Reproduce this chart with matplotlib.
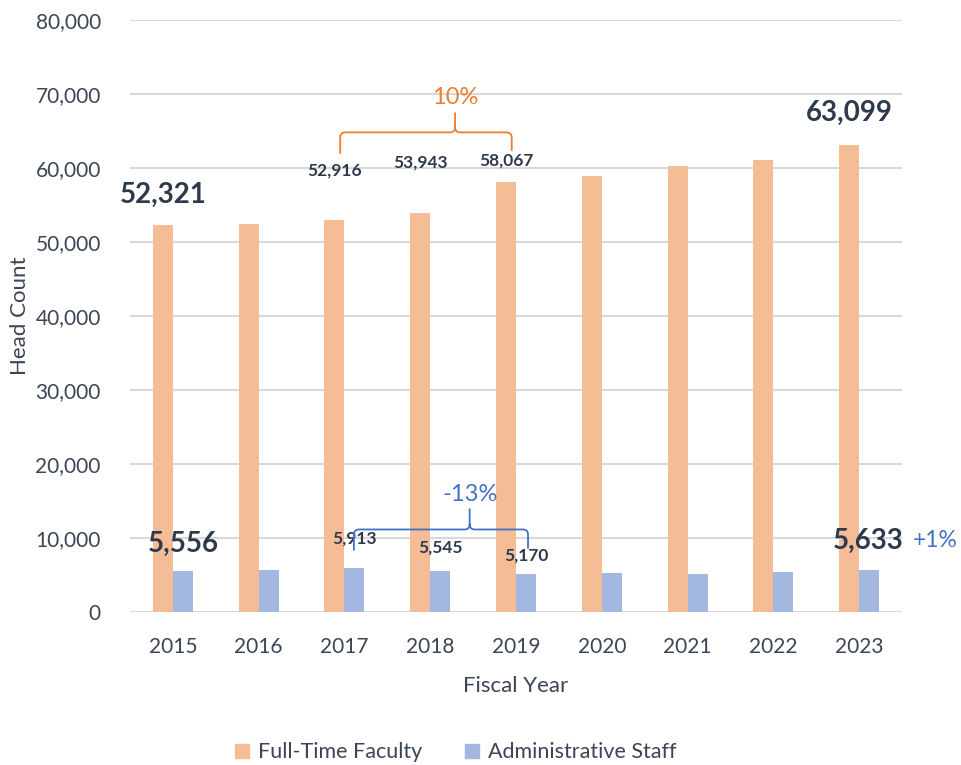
import matplotlib
matplotlib.use('Agg')
import matplotlib.pyplot as plt
from matplotlib.path import Path
from matplotlib.patches import PathPatch, Patch
import numpy as np

##### Data

years = ['2015', '2016', '2017', '2018', '2019', '2020', '2021', '2022', '2023']
faculty = [52321, 52400, 52916, 53943, 58067, 58900, 60300, 61100, 63099]
admin = [5556, 5690, 5913, 5545, 5170, 5210, 5200, 5400, 5633]

# which bars get a value label: (index, size)
faculty_labels = {0: 'big', 2: 'small', 3: 'small', 4: 'small', 8: 'big'}
admin_labels = {0: 'big', 2: 'small', 3: 'small', 4: 'small', 8: 'big'}

faculty_change = '10%'
admin_change = '-13%'
admin_change_total = '+1%'

##### Style

plt.rcParams['font.family'] = ['Lato', 'DejaVu Sans']
txt = '#3b4556'
lab = '#2e3a4b'
c_fac = '#f4bd96'
c_adm = '#a2b8e1'
c_orange = '#ed7d31'
c_blue = '#4472c4'

fig = plt.figure(figsize=(9.61, 7.65), dpi=100)
ax = fig.add_axes([0.1353, 0.2, 0.8033, 0.774])

x = np.arange(len(years))
w = 0.233
ax.bar(x - w / 2, faculty, w, color=c_fac, label='Full-Time Faculty', zorder=2)
ax.bar(x + w / 2, admin, w, color=c_adm, label='Administrative Staff', zorder=2)

ax.set_xlim(-0.5, len(years) - 0.5)
ax.set_ylim(0, 80000)
ax.set_yticks(range(0, 80001, 10000))
ax.set_yticklabels(['{:,}'.format(v) for v in range(0, 80001, 10000)])
ax.set_xticks(x)
ax.set_xticklabels(years)
ax.yaxis.grid(True, color='#d9d9d9', linewidth=1.5, zorder=0)
ax.set_axisbelow(True)
for s in ax.spines.values():
    s.set_visible(False)
ax.tick_params(length=0, labelsize=15, colors=txt)
ax.tick_params(axis='x', pad=18)
ax.tick_params(axis='y', pad=21)
ax.set_xlabel('Fiscal Year', fontsize=16, color=txt, labelpad=14)
ax.set_ylabel('Head Count', fontsize=16, color=txt)
ax.yaxis.set_label_coords(-0.13, 0.5)

##### Value labels

off_fac = {0: 30, 2: 50, 3: 50, 4: 22, 8: 32}
for i, size in faculty_labels.items():
    fs = 20 if size == 'big' else 12.5
    ax.annotate('{:,}'.format(faculty[i]), (x[i] - w / 2, faculty[i]),
                xytext=(0, off_fac[i]), textcoords='offset pixels',
                ha='center', va='center', fontsize=fs, fontweight='bold', color=lab)

off_adm = {0: 27, 2: 30, 3: 23, 4: 18, 8: 29}
dx_adm = {0: 0, 2: 0, 3: 0, 4: 0, 8: -1}
for i, size in admin_labels.items():
    fs = 20 if size == 'big' else 12.5
    ax.annotate('{:,}'.format(admin[i]), (x[i] + w / 2, admin[i]),
                xytext=(dx_adm[i], off_adm[i]), textcoords='offset pixels',
                ha='center', va='center', fontsize=fs, fontweight='bold', color=lab)

ax.annotate(admin_change_total, (x[8] + w / 2, admin[8]), xytext=(66, 30),
            textcoords='offset pixels', ha='center', va='center',
            fontsize=16.5, color=c_blue, annotation_clip=False)


##### Braces

def brace(x0, x1, xp, y_tip0, y_tip1, yh, ypeak, color):
    rx = 0.06
    ry = 700
    verts = [(x0, y_tip0), (x0, yh - ry), (x0, yh), (x0 + rx, yh),
             (xp - rx, yh), (xp, yh), (xp, yh + ry), (xp, ypeak),
             (xp, yh + ry), (xp, yh), (xp + rx, yh),
             (x1 - rx, yh), (x1, yh), (x1, yh - ry), (x1, y_tip1)]
    codes = [Path.MOVETO, Path.LINETO, Path.CURVE3, Path.CURVE3,
             Path.LINETO, Path.CURVE3, Path.CURVE3, Path.LINETO,
             Path.MOVETO, Path.CURVE3, Path.CURVE3,
             Path.LINETO, Path.CURVE3, Path.CURVE3, Path.LINETO]
    ax.add_patch(PathPatch(Path(verts, codes), fill=False, edgecolor=color,
                           linewidth=1.3, zorder=3, capstyle='round'))

brace(1.95, 3.95, 3.29, 62000, 62400, 64800, 67400, c_orange)
ax.text(3.29, 69500, faculty_change, ha='center', va='center', fontsize=17, color=c_orange)

brace(2.11, 4.14, 3.46, 8400, 8650, 11150, 13900, c_blue)
ax.text(3.46, 15900, admin_change, ha='center', va='center', fontsize=17, color=c_blue)

##### Legend

handles = [Patch(color=c_fac, label='Full-Time Faculty'),
           Patch(color=c_adm, label='Administrative Staff')]
leg = fig.legend(handles=handles, loc='center', bbox_to_anchor=(0.474, 0.0165),
                 ncol=2, frameon=False, fontsize=15.5, handlelength=0.65,
                 handleheight=0.65, handletextpad=0.4, columnspacing=2.0)
for t in leg.get_texts():
    t.set_color(txt)

fig.savefig('out.png', dpi=100)
